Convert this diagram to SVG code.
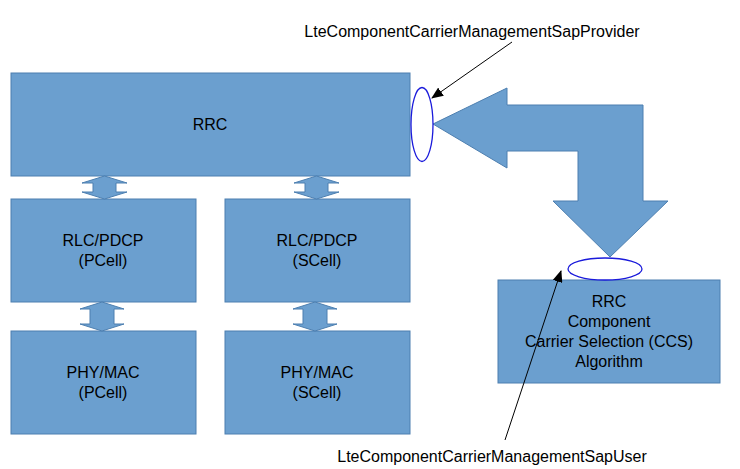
<svg xmlns="http://www.w3.org/2000/svg" width="740" height="469" viewBox="0 0 740 469">
<style>
.b{fill:#6b9fcf;stroke:#4d7fb0;stroke-width:1}
.t{font-family:"Liberation Sans",Arial,sans-serif;font-size:16px;fill:#000;text-anchor:middle}
.e{fill:#fff;stroke:#1a1adb;stroke-width:1.3}
.l{stroke:#000;stroke-width:1;fill:none;marker-end:url(#ah)}
</style>
<defs>
<marker id="ah" markerWidth="12" markerHeight="10" refX="11" refY="5" orient="auto" markerUnits="userSpaceOnUse"><path d="M0,0 L12,5 L0,10 Z" fill="#000"/></marker>
</defs>
<rect width="740" height="469" fill="#fff"/>
<g id="rrc"><rect class="b" x="11" y="73" width="399" height="103"/><text class="t" x="210" y="130">RRC</text></g>
<g id="rlc-p"><rect class="b" x="11" y="199" width="185" height="103"/><text class="t" x="103" y="246">RLC/PDCP</text><text class="t" x="103" y="266">(PCell)</text></g>
<g id="rlc-s"><rect class="b" x="225" y="199" width="185" height="103"/><text class="t" x="317" y="246">RLC/PDCP</text><text class="t" x="317" y="266">(SCell)</text></g>
<g id="phy-p"><rect class="b" x="11" y="331" width="185" height="103"/><text class="t" x="103" y="378">PHY/MAC</text><text class="t" x="103" y="398">(PCell)</text></g>
<g id="phy-s"><rect class="b" x="225" y="331" width="185" height="103"/><text class="t" x="317" y="378">PHY/MAC</text><text class="t" x="317" y="398">(SCell)</text></g>
<g id="ccs"><rect class="b" x="498" y="280" width="222" height="103"/><text class="t" x="609" y="307">RRC</text><text class="t" x="609" y="327">Component</text><text class="t" x="609" y="347">Carrier Selection (CCS)</text><text class="t" x="609" y="367">Algorithm</text></g>
<g id="connectors">
<path class="b" d="M104.5,176 L127,183 L116,183 L116,192 L127,192 L104.5,199 L82,192 L93,192 L93,183 L82,183 Z"/>
<path class="b" d="M316.5,176 L339,183 L328,183 L328,192 L339,192 L316.5,199 L294,192 L305,192 L305,183 L294,183 Z"/>
<path class="b" d="M102,302 L124,309 L114,309 L114,324 L124,324 L102,331 L80,324 L90,324 L90,309 L80,309 Z"/>
<path class="b" d="M315,302 L337,309 L327,309 L327,324 L337,324 L315,331 L293,324 L303,324 L303,309 L293,309 Z"/>
<path class="b" d="M433,124 L507,88 L507,105 L643,105 L643,201 L668,201 L610,257 L553,201 L578,201 L578,151 L507,151 L507,168 Z"/>
<ellipse class="e" cx="422" cy="124.5" rx="11" ry="37"/>
<ellipse class="e" cx="605" cy="269" rx="37" ry="11"/>
<line class="l" x1="512" y1="42" x2="432" y2="98"/>
<line class="l" x1="505" y1="440" x2="561" y2="271"/>
</g>
<text class="t" x="472" y="37">LteComponentCarrierManagementSapProvider</text>
<text class="t" x="492" y="462">LteComponentCarrierManagementSapUser</text>
</svg>
